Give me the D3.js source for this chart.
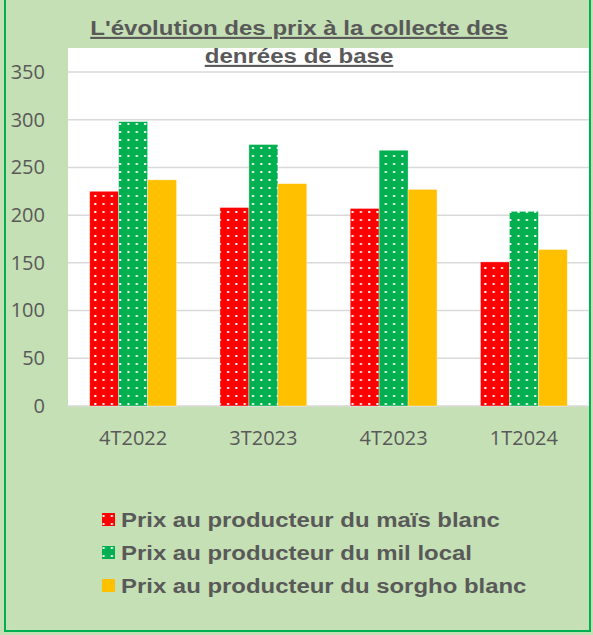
<!DOCTYPE html>
<html><head><meta charset="utf-8">
<script src="https://cdn.jsdelivr.net/npm/d3@7"></script>
<style>body{margin:0;background:#C5E0B4;} svg{display:block;}</style>
</head><body><div id="chart"></div>
<script>
const categories = ["4T2022", "3T2023", "4T2023", "1T2024"];
const seriesNames = ["Prix au producteur du maïs blanc", "Prix au producteur du mil local", "Prix au producteur du sorgho blanc"];
const maisBlanc = [225, 208, 207, 151];
const milLocal = [298, 274, 268, 204];
const sorghoBlanc = [237, 233, 227, 164];
const yTicks = [0, 50, 100, 150, 200, 250, 300, 350];
const titleLines = ["L'évolution des prix à la collecte des", "denrées de base"];

(function () {
const W = 593, H = 635;
const colors = ["#FF0000", "#00B050", "#FFC000"];
const patterned = [true, true, false];
const series = [maisBlanc, milLocal, sorghoBlanc];

const svg = d3.select("#chart").append("svg").attr("width", W).attr("height", H);
const defs = svg.append("defs");
colors.forEach((c, i) => {
  const p = defs.append("pattern").attr("id", "pat" + i)
    .attr("patternUnits", "userSpaceOnUse").attr("width", 8.3).attr("height", 8);
  p.append("rect").attr("width", 8.3).attr("height", 8).attr("fill", c);
  if (patterned[i]) p.append("rect").attr("x", 3).attr("y", 3).attr("width", 2).attr("height", 2).attr("fill", "#fff");
});
const fillFor = i => patterned[i] ? `url(#pat${i})` : colors[i];

svg.append("rect").attr("x", 0).attr("y", 0).attr("width", W).attr("height", H).attr("fill", "#C5E0B4");
svg.append("rect").attr("x", 5).attr("y", -10).attr("width", 585).attr("height", 641)
  .attr("fill", "none").attr("stroke", "#00B050").attr("stroke-width", 2);

const pLeft = 68, pRight = 589, pTop = 48, pBottom = 406;
svg.append("rect").attr("x", pLeft).attr("y", pTop).attr("width", pRight - pLeft).attr("height", pBottom - pTop).attr("fill", "#fff");

const y = d3.scaleLinear().domain([0, 350]).range([pBottom, 72]);
const x0 = d3.scaleBand().domain(categories).range([pLeft, pRight]).paddingInner(1/3).paddingOuter(1/6);
const x1 = d3.scaleBand().domain(d3.range(series.length)).range([0, x0.bandwidth()]);

svg.append("g").selectAll("line").data(yTicks).join("line")
  .attr("x1", pLeft).attr("x2", pRight).attr("y1", d => y(d)).attr("y2", d => y(d))
  .attr("stroke", "#D9D9D9").attr("stroke-width", 1.5);

const yAxis = svg.append("g").attr("transform", `translate(${pLeft},0)`)
  .call(d3.axisLeft(y).tickValues(yTicks).tickSize(0).tickPadding(23));
yAxis.select(".domain").remove();
yAxis.selectAll("text").attr("fill", "#595959").style("font-family", "'Open Sans', sans-serif").style("font-size", "20px");

series.forEach((vals, si) => {
  svg.append("g").selectAll("rect").data(vals).join("rect")
    .attr("x", (d, i) => x0(categories[i]) + x1(si))
    .attr("y", d => y(d))
    .attr("width", x1.bandwidth())
    .attr("height", d => y(0) - y(d))
    .attr("fill", fillFor(si))
    .attr("stroke", "rgba(255,255,255,0.5)").attr("stroke-width", 0.7);
});

const xAxis = svg.append("g").attr("transform", `translate(0,${pBottom})`)
  .call(d3.axisBottom(x0).tickSize(0).tickPadding(25));
xAxis.select(".domain").remove();
xAxis.selectAll("text").attr("fill", "#595959").style("font-family", "'Open Sans', sans-serif").style("font-size", "20px");

titleLines.forEach((t, i) => {
  svg.append("text").attr("text-anchor", "middle")
    .attr("transform", `translate(299,${35 + i * 28}) scale(1.146,1)`)
    .style("font-family", "'Liberation Sans', Arial, sans-serif").style("font-weight", "bold")
    .style("font-size", "21px").attr("fill", "#595959").style("text-decoration", "underline")
    .text(t);
});

const lg = svg.append("g");
seriesNames.forEach((n, i) => {
  const yy = 513 + i * 33;
  lg.append("rect").attr("x", 102).attr("y", yy).attr("width", 13).attr("height", 13).attr("fill", fillFor(i));
  lg.append("text").attr("transform", `translate(121,${yy + 14}) scale(1.14,1)`).text(n)
    .style("font-family", "'Liberation Sans', Arial, sans-serif").style("font-weight", "bold")
    .style("font-size", "21px").attr("fill", "#595959");
});
})();
</script></body></html>
